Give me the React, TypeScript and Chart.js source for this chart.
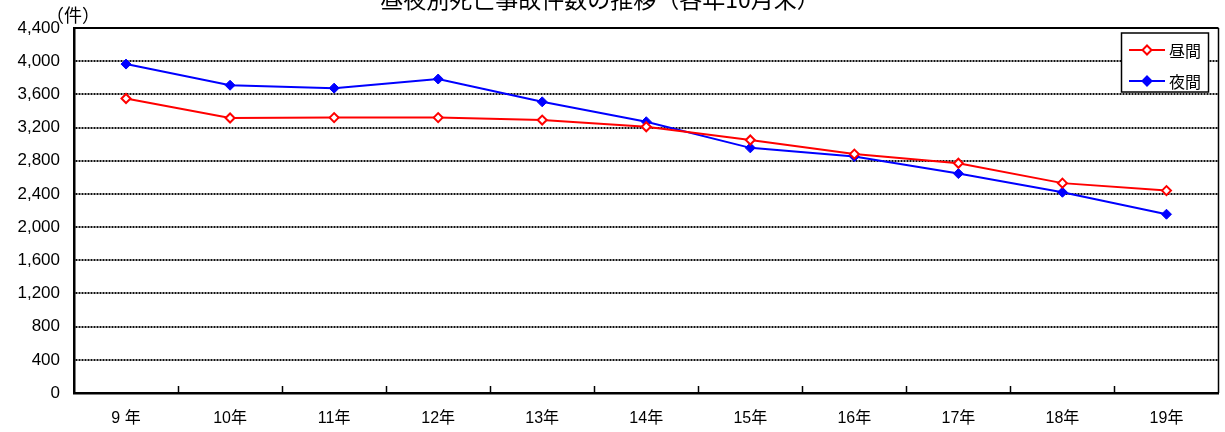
import React, { useEffect, useRef } from 'react';
import { Chart, registerables } from 'chart.js';

Chart.register(...registerables);

const TITLE = '昼夜別死亡事故件数の推移（各年10月末）';
const UNIT_LABEL = '（件）';
const categories = ['9 年', '10年', '11年', '12年', '13年', '14年', '15年', '16年', '17年', '18年', '19年'];
const seriesLabels = ['昼間', '夜間'];
const dayValues = [3550, 3315, 3320, 3320, 3290, 3210, 3050, 2880, 2770, 2530, 2440];
const nightValues = [3965, 3710, 3675, 3785, 3510, 3270, 2955, 2850, 2645, 2420, 2155];
const yTickValues = [0, 400, 800, 1200, 1600, 2000, 2400, 2800, 3200, 3600, 4000, 4400];
const seriesColors = ['#ff0000', '#0000ff'];

const JP_FONT = "'Noto Sans CJK JP', 'Liberation Sans', sans-serif";
const NUM_FONT = "'Liberation Sans', 'Noto Sans CJK JP', sans-serif";

function diamond(ctx: CanvasRenderingContext2D, x: number, y: number, r: number) {
  ctx.beginPath();
  ctx.moveTo(x, y - r);
  ctx.lineTo(x + r, y);
  ctx.lineTo(x, y + r);
  ctx.lineTo(x - r, y);
  ctx.closePath();
}

const decorPlugin = {
  id: 'decor',
  afterDraw(chart: any) {
    const { ctx, chartArea } = chart;
    const { left, right, top, bottom } = chartArea;
    ctx.save();
    // Title (partly clipped at top, as in reference)
    ctx.fillStyle = '#000';
    ctx.font = `23px ${JP_FONT}`;
    ctx.textAlign = 'center';
    ctx.textBaseline = 'alphabetic';
    ctx.fillText(TITLE, 600, 8);
    // Unit label
    ctx.font = `18px ${JP_FONT}`;
    ctx.textAlign = 'center';
    ctx.textBaseline = 'middle';
    ctx.fillText(UNIT_LABEL, 73, 15);
    // Top border (solid)
    ctx.strokeStyle = '#000';
    ctx.lineWidth = 2;
    ctx.beginPath();
    ctx.moveTo(left, top);
    ctx.lineTo(right, top);
    ctx.stroke();
    // Right border
    ctx.lineWidth = 1.5;
    ctx.beginPath();
    ctx.moveTo(right, top);
    ctx.lineTo(right, bottom);
    ctx.stroke();
    // Inner tick marks between categories
    const n = categories.length;
    const step = (right - left) / n;
    ctx.lineWidth = 1.5;
    for (let i = 1; i < n; i++) {
      const x = Math.round(left + i * step) + 0.5;
      ctx.beginPath();
      ctx.moveTo(x, bottom);
      ctx.lineTo(x, bottom - 7);
      ctx.stroke();
    }
    // Legend box
    const bx = 1121.5, by = 33, bw = 87, bh = 59;
    ctx.fillStyle = '#fff';
    ctx.fillRect(bx, by, bw, bh);
    ctx.strokeStyle = '#000';
    ctx.lineWidth = 1.5;
    ctx.strokeRect(bx, by, bw, bh);
    chart.data.datasets.forEach((ds: any, i: number) => {
      const y = 50 + i * 31;
      ctx.strokeStyle = ds.borderColor;
      ctx.lineWidth = 2;
      ctx.beginPath();
      ctx.moveTo(1129, y);
      ctx.lineTo(1165, y);
      ctx.stroke();
      diamond(ctx, 1147, y, 4.5);
      ctx.fillStyle = ds.pointBackgroundColor;
      ctx.fill();
      ctx.lineWidth = 2;
      ctx.strokeStyle = ds.borderColor;
      ctx.stroke();
      ctx.fillStyle = '#000';
      ctx.font = `16px ${JP_FONT}`;
      ctx.textAlign = 'left';
      ctx.textBaseline = 'middle';
      ctx.fillText(ds.label, 1169, y + 1);
    });
    ctx.restore();
  },
};

export default function App() {
  const ref = useRef<HTMLCanvasElement | null>(null);
  useEffect(() => {
    document.body.style.margin = '0';
    if (!ref.current) return;
    const chart = new Chart(ref.current, {
      type: 'line',
      data: {
        labels: categories,
        datasets: [
          {
            label: seriesLabels[0],
            data: dayValues,
            borderColor: seriesColors[0],
            backgroundColor: seriesColors[0],
            pointBackgroundColor: '#ffffff',
            pointBorderColor: seriesColors[0],
            pointBorderWidth: 2,
            pointStyle: 'rectRot',
            pointRadius: 4.5,
            borderWidth: 2,
            tension: 0,
          },
          {
            label: seriesLabels[1],
            data: nightValues,
            borderColor: seriesColors[1],
            backgroundColor: seriesColors[1],
            pointBackgroundColor: seriesColors[1],
            pointBorderColor: seriesColors[1],
            pointBorderWidth: 1,
            pointStyle: 'rectRot',
            pointRadius: 5,
            borderWidth: 2,
            tension: 0,
          },
        ],
      },
      options: {
        responsive: false,
        animation: false,
        devicePixelRatio: 1,
        layout: { padding: { top: 28, right: 5, left: 0, bottom: 0 } },
        plugins: {
          legend: { display: false },
          title: { display: false },
          tooltip: { enabled: false },
        },
        scales: {
          x: {
            offset: true,
            grid: { display: false, drawTicks: false },
            border: { display: true, color: '#000', width: 2.5 },
            ticks: {
              color: '#000',
              padding: 16,
              font: { family: NUM_FONT, size: 16 },
              maxRotation: 0,
              autoSkip: false,
            },
            afterFit: (s: any) => { s.height = 39; },
          },
          y: {
            min: 0,
            max: 4400,
            afterBuildTicks: (s: any) => { s.ticks = yTickValues.map((v) => ({ value: v })); },
            grid: { color: '#111', lineWidth: 2, drawTicks: false },
            border: { display: true, color: '#000', width: 2.5, dash: [2, 1] },
            ticks: {
              color: '#000',
              padding: 14,
              font: { family: NUM_FONT, size: 17 },
              callback: (v: any) => Number(v).toLocaleString('en-US'),
            },
            afterFit: (s: any) => { s.width = 74; },
          },
        },
      },
      plugins: [decorPlugin],
    });
    return () => chart.destroy();
  }, []);
  return (
    <div style={{ width: 1225, height: 432 }}>
      <canvas ref={ref} width={1225} height={432} style={{ display: 'block' }} />
    </div>
  );
}
